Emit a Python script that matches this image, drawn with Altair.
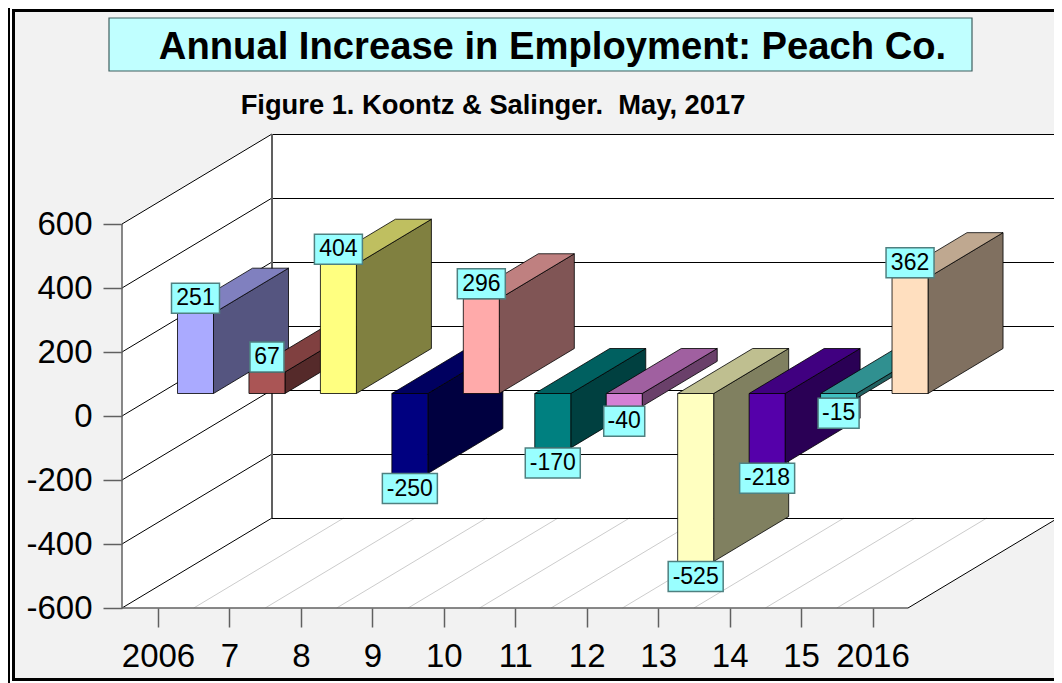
import json
import altair as alt
import pandas as pd

years = ["2006", "7", "8", "9", "10", "11", "12", "13", "14", "15", "2016"]
increases = [251, 67, 404, -250, 296, -170, -40, -525, -218, -15, 362]
front_colors = ["#aaaaff", "#aa5555", "#ffff80", "#000080", "#ffaaaa", "#008080",
                "#d580d5", "#ffffc0", "#5500aa", "#40c0c0", "#ffdfbf"]
top_colors = ["#8080bf", "#804040", "#bfbf60", "#000060", "#bf8080", "#006060",
              "#a060a0", "#bfbf90", "#400080", "#309090", "#bfa890"]
side_colors = ["#555580", "#552a2a", "#808040", "#000040", "#805555", "#004040",
               "#6a406a", "#808060", "#2a0055", "#206060", "#807060"]
y_ticks = [-600, -400, -200, 0, 200, 400, 600]

# page geometry of the 3-D box
PX0, PY0, PW, PH = 122, 134, 932, 474
PPU = 786 / 11          # pixels per category
PPV = 0.32              # pixels per value unit
XMIN = -36 / PPU
XMAX = XMIN + PW / PPU
XBACK = XMIN + 936 / PPU
YMIN = -600
YMAX = YMIN + PH / PPV
DX = 150 / PPU          # full depth of the box, in x units
DY = 90 / PPV           # full depth of the box, in y units
XFRONT = XMIN + 786 / PPU
CRISP = 0.5 / PPV       # half a pixel, so that level lines fill one pixel row

sx = alt.Scale(domain=[XMIN, XMAX], nice=False, zero=False)
sy = alt.Scale(domain=[YMIN, YMAX], nice=False, zero=False)
FONT = "Liberation Sans"

x_axis = alt.Axis(
    values=list(range(len(years))), title=None, domain=False, grid=False, tickSize=19,
    tickColor="#606060", tickWidth=1.5, labelFontSize=33, labelFont=FONT,
    labelColor="black", labelPadding=13, labelFlush=False, labelOverlap=False,
    labelExpr=json.dumps(years) + "[datum.value]", zindex=1)
y_axis = alt.Axis(
    values=y_ticks, title=None, domain=False, grid=False, tickSize=19, tickColor="#606060",
    tickWidth=1.5, labelFontSize=33, labelFont=FONT, labelColor="black",
    labelPadding=11, labelExpr="'' + datum.value", zindex=1)


def X(f="x", **k):
    return alt.X(f"{f}:Q", scale=sx, axis=x_axis, **k)


def Y(f="y", **k):
    return alt.Y(f"{f}:Q", scale=sy, axis=y_axis, **k)


def px(v):
    return alt.value(v - PX0)


def py(v):
    return alt.value(v - PY0)


one = pd.DataFrame({"a": [0]})


def deco_rect(x0, x1, y0, y1, **kw):
    return alt.Chart(one).mark_rect(**kw).encode(x=px(x0), x2=px(x1), y=py(y0), y2=py(y1))


def rules(rows, **kw):
    d = pd.DataFrame(rows, columns=["x", "y", "x1", "y1"])
    return alt.Chart(d).mark_rule(**kw).encode(
        x=X(), y=Y(), x2=alt.X2("x1:Q"), y2=alt.Y2("y1:Q"))


layers = []

# frame and background
layers.append(deco_rect(15, 1062, 12, 678, fill="#f2f2f2"))
for a in ([8, 10, 8, 683], [12, 15, 12, 681], [12, 1062, 9, 12], [12, 1062, 678, 681]):
    layers.append(deco_rect(*a, fill="black"))

# walls and floor
layers.append(alt.Chart(pd.DataFrame({
    "x": [XMIN, XMIN + DX], "y": [600, 600 + DY], "y1": [-600, -600 + DY]
})).mark_area(fill="white", orient="vertical").encode(x=X(), y=Y("y", stack=None), y2="y1:Q"))
layers.append(alt.Chart(pd.DataFrame({
    "x": [XMIN + DX], "x1": [XBACK], "y": [600 + DY], "y1": [-600 + DY]
})).mark_rect(fill="white").encode(x=X(), x2="x1:Q", y=Y(), y2="y1:Q"))
layers.append(alt.Chart(pd.DataFrame({
    "y": [-600, -600 + DY], "x": [XMIN, XMIN + DX], "x1": [XFRONT, XFRONT + DX]
})).mark_area(fill="white", orient="horizontal").encode(y=Y(), x=X("x", stack=None), x2="x1:Q"))

# floor lines
layers.append(rules([[i + 0.5, -600, i + 0.5 + DX, -600 + DY] for i in range(len(years) - 1)],
                    color="#cccccc", strokeWidth=1))
# wall lines
layers.append(rules([[XMIN + DX, v + DY - CRISP, XBACK, v + DY - CRISP] for v in y_ticks],
                    color="black", strokeWidth=1))
layers.append(rules([[XMIN, v, XMIN + DX, v + DY] for v in y_ticks],
                    color="black", strokeWidth=1))
layers.append(rules([[XFRONT, -600, XFRONT + DX, -600 + DY]], color="black", strokeWidth=1))
# box edges
layers.append(rules([[XMIN, -600, XFRONT, -600], [XMIN, -600, XMIN, 600],
                     [XBACK, -600 + DY, XBACK, 600 + DY]],
                    color="#606060", strokeWidth=1.5))
layers.append(rules([[XMIN + DX, -600 + DY, XMIN + DX, 600 + DY]], color="#606060", strokeWidth=2))

# bars, painted from left to right
HALF = 18 / PPU
D0, D1 = 0.25, 0.75
STROKE = dict(stroke="black", strokeWidth=0.8)
for i, v in enumerate(increases):
    xl = i - HALF + D0 * DX
    xr = i + HALF + D0 * DX
    y0 = D0 * DY
    ytop = max(v, 0) + y0
    ybot = min(v, 0) + y0
    shift_x = (D1 - D0) * DX
    shift_y = (D1 - D0) * DY
    layers.append(alt.Chart(pd.DataFrame({
        "x": [xr, xr + shift_x], "y": [ytop, ytop + shift_y], "y1": [ybot, ybot + shift_y]
    })).mark_area(fill=side_colors[i], orient="vertical", **STROKE).encode(
        x=X(), y=Y("y", stack=None), y2="y1:Q"))
    layers.append(alt.Chart(pd.DataFrame({
        "y": [ytop, ytop + shift_y], "x": [xl, xl + shift_x], "x1": [xr, xr + shift_x]
    })).mark_area(fill=top_colors[i], orient="horizontal", **STROKE).encode(
        y=Y(), x=X("x", stack=None), x2="x1:Q"))
    layers.append(alt.Chart(pd.DataFrame({
        "x": [xl], "x1": [xr], "y": [ytop], "y1": [ybot]
    })).mark_rect(fill=front_colors[i], **STROKE).encode(
        x=X(), x2="x1:Q", y=Y(), y2="y1:Q"))

# value boxes
BOX_H = 30 / PPV
rows = []
for i, v in enumerate(increases):
    s = str(v)
    w = (14 * len(s.lstrip("-")) + 6 + (7 if v < 0 else 0)) / PPU
    cx = i + D0 * DX
    base = v + D0 * DY
    lo = base if v > 0 else base - BOX_H
    rows.append({"x": cx - w / 2, "x1": cx + w / 2, "y": lo, "y1": lo + BOX_H,
                 "cx": cx, "cy": lo + BOX_H / 2, "t": s})
lab = pd.DataFrame(rows)
layers.append(alt.Chart(lab).mark_rect(fill="#99ffff", stroke="#4f8080", strokeWidth=1.5).encode(
    x=X(), x2="x1:Q", y=Y(), y2="y1:Q"))
layers.append(alt.Chart(lab).mark_text(font=FONT, fontSize=23, color="black", baseline="middle",
                                       align="center").encode(
    x=X("cx"), y=Y("cy"), text="t:N"))

# titles
layers.append(deco_rect(109, 972, 18, 71, fill="#c0ffff", stroke="#3f5f5f", strokeWidth=1.2))
layers.append(alt.Chart(one).mark_text(
    text="Annual Increase in Employment: Peach Co.", font=FONT, fontSize=38.2, fontWeight="bold",
    color="black", align="center", baseline="alphabetic").encode(x=px(552.5), y=py(59)))
layers.append(alt.Chart(one).mark_text(
    text="Figure 1. Koontz & Salinger.\u00a0\u00a0May, 2017", font=FONT, fontSize=27.3,
    fontWeight="bold", color="black", align="center", baseline="alphabetic").encode(
    x=px(493), y=py(114)))

chart = alt.layer(*layers).properties(
    width=PW, height=PH,
    padding={"left": PX0 - 8, "top": PY0 - 8, "right": 0, "bottom": 683 - PY0 - PH},
    autosize=alt.AutoSizeParams(type="none"),
).configure_view(stroke=None)

chart.save("out.html", embed_options={"renderer": "svg", "actions": False})
